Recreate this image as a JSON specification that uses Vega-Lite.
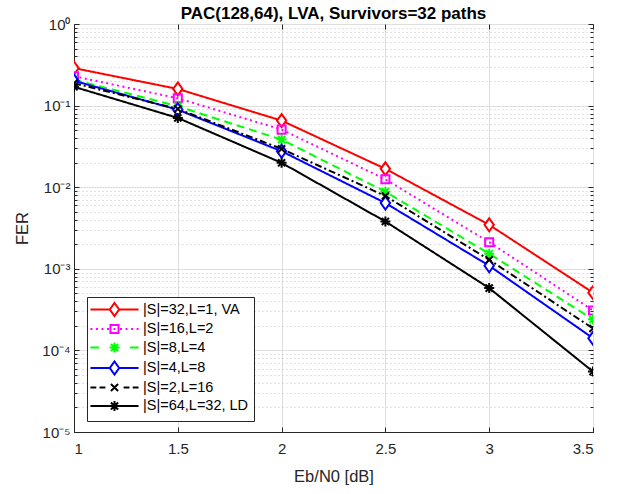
{
  "$schema": "https://vega.github.io/schema/vega-lite/v6.json",
  "width": 519,
  "height": 408,
  "autosize": {"type": "none"},
  "padding": {"left": 74, "top": 24, "right": 25, "bottom": 62},
  "background": "white",
  "config": {
    "font": "Liberation Sans",
    "view": {"stroke": "#262626", "strokeWidth": 1},
    "axis": {
      "labelFont": "Liberation Sans",
      "titleFont": "Liberation Sans",
      "labelColor": "#262626",
      "titleColor": "#262626",
      "tickColor": "#262626",
      "domainColor": "#262626",
      "labelFontSize": 15,
      "titleFontSize": 16.5,
      "titleFontWeight": "normal"
    }
  },
  "title": {
    "text": "PAC(128,64), LVA, Survivors=32 paths",
    "font": "Liberation Sans",
    "fontSize": 17,
    "fontWeight": "bold",
    "color": "#000000",
    "anchor": "middle",
    "baseline": "alphabetic",
    "offset": -19
  },
  "data": {
    "values": [
      {"series": "|S|=32,L=1, VA", "snr": 1, "fer": 0.288},
      {"series": "|S|=32,L=1, VA", "snr": 1.5, "fer": 0.160},
      {"series": "|S|=32,L=1, VA", "snr": 2, "fer": 0.0655},
      {"series": "|S|=32,L=1, VA", "snr": 2.5, "fer": 0.0168},
      {"series": "|S|=32,L=1, VA", "snr": 3, "fer": 0.00346},
      {"series": "|S|=32,L=1, VA", "snr": 3.5, "fer": 0.00051},
      {"series": "|S|=16,L=2", "snr": 1, "fer": 0.229},
      {"series": "|S|=16,L=2", "snr": 1.5, "fer": 0.123},
      {"series": "|S|=16,L=2", "snr": 2, "fer": 0.0508},
      {"series": "|S|=16,L=2", "snr": 2.5, "fer": 0.0125},
      {"series": "|S|=16,L=2", "snr": 3, "fer": 0.00212},
      {"series": "|S|=16,L=2", "snr": 3.5, "fer": 0.000309},
      {"series": "|S|=8,L=4", "snr": 1, "fer": 0.208},
      {"series": "|S|=8,L=4", "snr": 1.5, "fer": 0.098},
      {"series": "|S|=8,L=4", "snr": 2, "fer": 0.0383},
      {"series": "|S|=8,L=4", "snr": 2.5, "fer": 0.0088},
      {"series": "|S|=8,L=4", "snr": 3, "fer": 0.00153},
      {"series": "|S|=8,L=4", "snr": 3.5, "fer": 0.00024},
      {"series": "|S|=4,L=8", "snr": 1, "fer": 0.201},
      {"series": "|S|=4,L=8", "snr": 1.5, "fer": 0.089},
      {"series": "|S|=4,L=8", "snr": 2, "fer": 0.0276},
      {"series": "|S|=4,L=8", "snr": 2.5, "fer": 0.0064},
      {"series": "|S|=4,L=8", "snr": 3, "fer": 0.00109},
      {"series": "|S|=4,L=8", "snr": 3.5, "fer": 0.000141},
      {"series": "|S|=2,L=16", "snr": 1, "fer": 0.188},
      {"series": "|S|=2,L=16", "snr": 1.5, "fer": 0.091},
      {"series": "|S|=2,L=16", "snr": 2, "fer": 0.0295},
      {"series": "|S|=2,L=16", "snr": 2.5, "fer": 0.0078},
      {"series": "|S|=2,L=16", "snr": 3, "fer": 0.00129},
      {"series": "|S|=2,L=16", "snr": 3.5, "fer": 0.000186},
      {"series": "|S|=64,L=32, LD", "snr": 1, "fer": 0.170},
      {"series": "|S|=64,L=32, LD", "snr": 1.5, "fer": 0.0706},
      {"series": "|S|=64,L=32, LD", "snr": 2, "fer": 0.0199},
      {"series": "|S|=64,L=32, LD", "snr": 2.5, "fer": 0.0038},
      {"series": "|S|=64,L=32, LD", "snr": 3, "fer": 0.00058},
      {"series": "|S|=64,L=32, LD", "snr": 3.5, "fer": 0.000055}
    ]
  },
  "resolve": {
    "scale": {"shape": "independent", "stroke": "independent", "fill": "independent"},
    "axis": {"x": "independent", "y": "independent"}
  },
  "layer": [
    {
      "mark": {"type": "line", "strokeWidth": 2, "clip": true},
      "encoding": {
        "x": {
          "field": "snr", "type": "quantitative",
          "scale": {"domain": [1, 3.5], "nice": false, "zero": false},
          "axis": {
            "orient": "bottom",
            "values": [1, 1.5, 2, 2.5, 3, 3.5],
            "format": "~g",
            "title": "Eb/N0 [dB]",
            "grid": true,
            "gridColor": "#dedede",
            "gridWidth": 1,
            "tickSize": -5,
            "labelPadding": 14,
            "titlePadding": 12,
            "domain": true
          }
        },
        "y": {
          "field": "fer", "type": "quantitative",
          "scale": {"type": "log", "domain": [0.00001, 1], "nice": false},
          "axis": {
            "orient": "left",
            "title": "FER",
            "values": [0.00001, 0.00002, 0.00003, 0.00004, 0.00005, 0.00006, 0.00007, 0.00008, 0.00009,
                       0.0001, 0.0002, 0.0003, 0.0004, 0.0005, 0.0006, 0.0007, 0.0008, 0.0009,
                       0.001, 0.002, 0.003, 0.004, 0.005, 0.006, 0.007, 0.008, 0.009,
                       0.01, 0.02, 0.03, 0.04, 0.05, 0.06, 0.07, 0.08, 0.09,
                       0.1, 0.2, 0.3, 0.4, 0.5, 0.6, 0.7, 0.8, 0.9, 1],
            "labelExpr": "abs(log(datum.value)/LN10 - round(log(datum.value)/LN10)) < 1e-6 ? '10' + ['⁰','⁻¹','⁻²','⁻³','⁻⁴','⁻⁵'][abs(round(log(datum.value)/LN10))] : ''",
            "grid": true,
            "gridColor": {"condition": {"test": "abs(log(datum.value)/LN10 - round(log(datum.value)/LN10)) < 1e-6", "value": "#dedede"}, "value": "#c4c4c4"},
            "gridDash": {"condition": {"test": "abs(log(datum.value)/LN10 - round(log(datum.value)/LN10)) < 1e-6", "value": []}, "value": [1, 3]},
            "tickSize": {"condition": {"test": "abs(log(datum.value)/LN10 - round(log(datum.value)/LN10)) < 1e-6", "value": -5}, "value": -3},
            "labelPadding": 9,
            "titlePadding": 11,
            "labelOverlap": false,
            "labelBound": false,
            "labelFlush": false
          }
        },
        "stroke": {
          "field": "series", "type": "nominal", "legend": null,
          "scale": {
            "domain": ["|S|=32,L=1, VA", "|S|=16,L=2", "|S|=8,L=4", "|S|=4,L=8", "|S|=2,L=16", "|S|=64,L=32, LD"],
            "range": ["#ff0000", "#ff00ff", "#00ff00", "#0000ff", "#000000", "#000000"]
          }
        },
        "strokeDash": {
          "field": "series", "type": "nominal", "legend": null,
          "scale": {
            "domain": ["|S|=32,L=1, VA", "|S|=16,L=2", "|S|=8,L=4", "|S|=4,L=8", "|S|=2,L=16", "|S|=64,L=32, LD"],
            "range": [[1, 0], [2, 3.5], [8, 5], [1, 0], [7, 3, 2, 3], [1, 0]]
          }
        }
      }
    },
    {
      "mark": {"type": "point", "strokeWidth": 2, "size": 169, "opacity": 1, "clip": true},
      "encoding": {
        "x": {"field": "snr", "type": "quantitative", "axis": null},
        "y": {"field": "fer", "type": "quantitative", "axis": null},
        "shape": {
          "field": "series", "type": "nominal", "legend": null,
          "scale": {
            "domain": ["|S|=32,L=1, VA", "|S|=16,L=2", "|S|=8,L=4", "|S|=4,L=8", "|S|=2,L=16", "|S|=64,L=32, LD"],
            "range": [
              "M0,-1L0.72,0L0,1L-0.72,0Z",
              "M-0.62,-0.62L0.62,-0.62L0.62,0.62L-0.62,0.62Z",
              "M-0.77,0L0.77,0M0,-0.77L0,0.77M-0.55,-0.55L0.55,0.55M-0.55,0.55L0.55,-0.55",
              "M0,-1L0.72,0L0,1L-0.72,0Z",
              "M-0.55,-0.55L0.55,0.55M-0.55,0.55L0.55,-0.55",
              "M-0.77,0L0.77,0M0,-0.77L0,0.77M-0.55,-0.55L0.55,0.55M-0.55,0.55L0.55,-0.55"
            ]
          }
        },
        "stroke": {
          "field": "series", "type": "nominal", "legend": null,
          "scale": {
            "domain": ["|S|=32,L=1, VA", "|S|=16,L=2", "|S|=8,L=4", "|S|=4,L=8", "|S|=2,L=16", "|S|=64,L=32, LD"],
            "range": ["#ff0000", "#ff00ff", "#00ff00", "#0000ff", "#000000", "#000000"]
          }
        },
        "fill": {
          "field": "series", "type": "nominal", "legend": null,
          "scale": {
            "domain": ["|S|=32,L=1, VA", "|S|=16,L=2", "|S|=8,L=4", "|S|=4,L=8", "|S|=2,L=16", "|S|=64,L=32, LD"],
            "range": ["#ffffff", "transparent", "#00ff00", "#ffffff", "#000000", "#000000"]
          }
        }
      }
    },
    {
      "transform": [{"filter": "false"}],
      "mark": {"type": "point", "strokeWidth": 2, "size": 169, "opacity": 1},
      "encoding": {
        "x": {
          "field": "snr", "type": "quantitative",
          "axis": {"orient": "top", "values": [1, 1.5, 2, 2.5, 3, 3.5], "labels": false, "grid": false, "domain": false, "title": null, "tickSize": -5}
        },
        "y": {
          "field": "fer", "type": "quantitative",
          "axis": {
            "orient": "right",
            "values": [0.00001, 0.00002, 0.00003, 0.00004, 0.00005, 0.00006, 0.00007, 0.00008, 0.00009,
                       0.0001, 0.0002, 0.0003, 0.0004, 0.0005, 0.0006, 0.0007, 0.0008, 0.0009,
                       0.001, 0.002, 0.003, 0.004, 0.005, 0.006, 0.007, 0.008, 0.009,
                       0.01, 0.02, 0.03, 0.04, 0.05, 0.06, 0.07, 0.08, 0.09,
                       0.1, 0.2, 0.3, 0.4, 0.5, 0.6, 0.7, 0.8, 0.9, 1],
            "labels": false, "grid": false, "domain": false, "title": null,
            "tickSize": {"condition": {"test": "abs(log(datum.value)/LN10 - round(log(datum.value)/LN10)) < 1e-6", "value": -5}, "value": -3}
          }
        },
        "shape": {
          "field": "series", "type": "nominal",
          "scale": {
            "domain": ["|S|=32,L=1, VA", "|S|=16,L=2", "|S|=8,L=4", "|S|=4,L=8", "|S|=2,L=16", "|S|=64,L=32, LD"],
            "range": [
              "M-3.7,0L-0.72,0M0.72,0L3.7,0M0,-1L0.72,0L0,1L-0.72,0Z",
              "M-3.7,0L-3.4,0M-2.85,0L-2.55,0M-2,0L-1.7,0M-1.15,0L-0.85,0M0.85,0L1.15,0M1.7,0L2,0M2.55,0L2.85,0M3.4,0L3.7,0M-0.15,0L0.15,0M-0.62,-0.62L0.62,-0.62L0.62,0.62L-0.62,0.62Z",
              "M-3.7,0L-2.4,0M2.4,0L3.7,0M-0.77,0L0.77,0M0,-0.77L0,0.77M-0.55,-0.55L0.55,0.55M-0.55,0.55L0.55,-0.55",
              "M-3.7,0L-0.72,0M0.72,0L3.7,0M0,-1L0.72,0L0,1L-0.72,0Z",
              "M-3.7,0L-2.8,0M-2.3,0L-1.4,0M1.4,0L2.3,0M2.8,0L3.7,0M-0.55,-0.55L0.55,0.55M-0.55,0.55L0.55,-0.55",
              "M-3.7,0L3.7,0M-0.77,0L0.77,0M0,-0.77L0,0.77M-0.55,-0.55L0.55,0.55M-0.55,0.55L0.55,-0.55"
            ]
          },
          "legend": {
            "orient": "none", "legendX": 13, "legendY": 273, "title": null,
            "symbolSize": 169, "symbolStrokeWidth": 2, "symbolOpacity": 1,
            "labelFont": "Liberation Sans", "labelFontSize": 14.5, "labelColor": "#000000",
            "strokeColor": "#262626", "fillColor": "#ffffff", "padding": 5, "rowPadding": 0.5,
            "symbolOffset": 15, "labelOffset": 21, "cornerRadius": 0, "labelLimit": 300
          }
        },
        "stroke": {
          "field": "series", "type": "nominal",
          "scale": {
            "domain": ["|S|=32,L=1, VA", "|S|=16,L=2", "|S|=8,L=4", "|S|=4,L=8", "|S|=2,L=16", "|S|=64,L=32, LD"],
            "range": ["#ff0000", "#ff00ff", "#00ff00", "#0000ff", "#000000", "#000000"]
          },
          "legend": {
            "orient": "none", "legendX": 13, "legendY": 273, "title": null,
            "symbolSize": 169, "symbolStrokeWidth": 2, "symbolOpacity": 1,
            "labelFont": "Liberation Sans", "labelFontSize": 14.5, "labelColor": "#000000",
            "strokeColor": "#262626", "fillColor": "#ffffff", "padding": 5, "rowPadding": 0.5,
            "symbolOffset": 15, "labelOffset": 21, "cornerRadius": 0, "labelLimit": 300
          }
        },
        "fill": {
          "field": "series", "type": "nominal",
          "scale": {
            "domain": ["|S|=32,L=1, VA", "|S|=16,L=2", "|S|=8,L=4", "|S|=4,L=8", "|S|=2,L=16", "|S|=64,L=32, LD"],
            "range": ["#ffffff", "transparent", "#00ff00", "#ffffff", "#000000", "#000000"]
          },
          "legend": {
            "orient": "none", "legendX": 13, "legendY": 273, "title": null,
            "symbolSize": 169, "symbolStrokeWidth": 2, "symbolOpacity": 1,
            "labelFont": "Liberation Sans", "labelFontSize": 14.5, "labelColor": "#000000",
            "strokeColor": "#262626", "fillColor": "#ffffff", "padding": 5, "rowPadding": 0.5,
            "symbolOffset": 15, "labelOffset": 21, "cornerRadius": 0, "labelLimit": 300
          }
        }
      }
    }
  ]
}
